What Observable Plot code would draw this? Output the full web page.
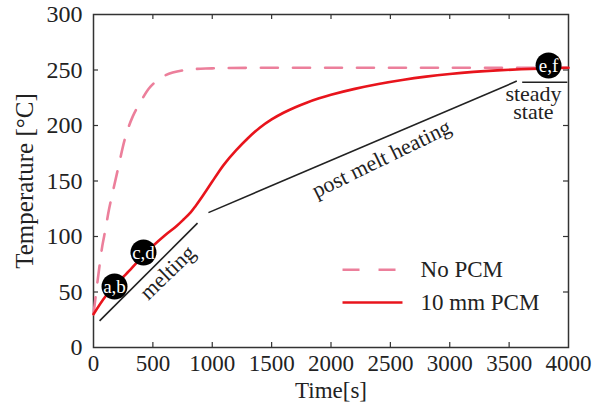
<!DOCTYPE html>
<html>
<head>
<meta charset="utf-8">
<script src="https://cdn.jsdelivr.net/npm/d3@7"></script>
<script src="https://cdn.jsdelivr.net/npm/@observablehq/plot@0.6"></script>
<style>
  html, body { margin: 0; padding: 0; background: #fff; }
  #chart svg, #chart svg * { font-family: "Liberation Serif", "Times New Roman", serif !important; }
</style>
</head>
<body>
<div id="chart"></div>
<script>
// ---- data ----
const noPcmTime = [0, 25, 50, 75, 100, 130, 160, 200, 270, 330, 400, 480, 600, 775, 1000, 2000, 3000, 4000];
const noPcmTemp = [30, 52, 73, 92, 106, 124, 139, 158, 190, 208, 222, 235, 245, 250, 251.5, 252, 252, 252];

const pcmTime = [0, 100, 177, 250, 300, 421, 500, 600, 700, 760, 820, 860, 900, 950, 1000, 1050, 1100, 1200, 1300, 1400, 1500, 1600, 1700, 1800, 1900, 2000, 2200, 2400, 2600, 2800, 3000, 3200, 3400, 3600, 3800, 4000];
const pcmTemp = [30, 46, 55.5, 63.5, 69, 83, 91.5, 101, 109.5, 115.5, 122, 127.5, 133.5, 141.5, 149.5, 157.5, 165, 177.5, 188.5, 198, 205.5, 211.5, 216.5, 220.8, 224.5, 227.7, 233, 237.4, 241, 244, 246.4, 248.3, 249.7, 250.7, 251.4, 252];

const seriesNames = ["No PCM", "10 mm PCM"];

const xTicks = [0, 500, 1000, 1500, 2000, 2500, 3000, 3500, 4000];
const yTicks = [0, 50, 100, 150, 200, 250, 300];

// annotation segments (data units)
const segT1 = [51, 968, 3610];
const segY1 = [24, 121.5, 239];
const segT2 = [876, 3565, 3990];
const segY2 = [112, 240, 239];

// annotation labels
const annotText = ["melting", "post melt heating", "steady", "state"];
const annotT = [623, 2425, 3705, 3705];
const annotY = [67.5, 170, 228, 212];
const annotAngle = [-44, -26, 0, 0];

// state markers
const markerText = ["a,b", "c,d", "e,f"];
const markerT = [177, 421, 3832];
const markerY = [55, 85.6, 254];

// legend entries (data units inside plot)
const legendT1 = [2097, 2097];
const legendT2 = [2565, 2602];
const legendY = [70, 40.5];
const legendTextT = 2754;

// ---- build ----
const RED = "#e8141c";
const PINK = "#ec7f9b";

const W = 597, H = 402, mL = 93, mR = 29, mT = 14, mB = 55;
const plotW = W - mL - mR, plotH = H - mT - mB;
const tickLen = 5;

const noPcm = noPcmTime.map((t, i) => ({t, v: noPcmTemp[i]}));
const pcm = pcmTime.map((t, i) => ({t, v: pcmTemp[i]}));
const idx3 = [0, 1, 2];

const chart = Plot.plot({
  width: W, height: H,
  marginLeft: mL, marginRight: mR, marginTop: mT, marginBottom: mB,
  style: {fontSize: "22px", color: "#222", background: "#fff"},
  x: {domain: [0, 4000], ticks: xTicks},
  y: {domain: [0, 300], ticks: yTicks},
  marks: [
    Plot.axisX({ticks: xTicks, tickSize: 0, tickPadding: 7, label: null, fontSize: 23, tickFormat: d => String(d)}),
    Plot.axisY({ticks: yTicks, tickSize: 0, tickPadding: 11, label: null, fontSize: 24, tickFormat: d => String(d)}),
    // inward ticks on all sides
    Plot.tickX(xTicks.slice(1, -1), {x: d => d, stroke: "#333", strokeWidth: 1.2, insetTop: plotH - tickLen}),
    Plot.tickX(xTicks.slice(1, -1), {x: d => d, stroke: "#333", strokeWidth: 1.2, insetBottom: plotH - tickLen}),
    Plot.tickY(yTicks.slice(1, -1), {y: d => d, stroke: "#333", strokeWidth: 1.2, insetRight: plotW - tickLen}),
    Plot.tickY(yTicks.slice(1, -1), {y: d => d, stroke: "#333", strokeWidth: 1.2, insetLeft: plotW - tickLen}),
    Plot.frame({stroke: "#333", strokeWidth: 1.5}),
    // series
    Plot.line(noPcm, {x: "t", y: "v", stroke: PINK, strokeWidth: 2.6, strokeDasharray: "17,15", curve: "catmull-rom"}),
    Plot.line(pcm, {x: "t", y: "v", stroke: RED, strokeWidth: 2.6, curve: "catmull-rom"}),
    // annotation segments
    Plot.link(idx3, {x1: i => segT1[i], y1: i => segY1[i], x2: i => segT2[i], y2: i => segY2[i], stroke: "#222", strokeWidth: 1.6}),
    Plot.text(annotText, {x: (d, i) => annotT[i], y: (d, i) => annotY[i], rotate: (d, i) => annotAngle[i], text: d => d, fontSize: 22, fill: "#222"}),
    // markers
    Plot.dot(idx3, {x: i => markerT[i], y: i => markerY[i], r: 13, fill: "#000"}),
    Plot.text(markerText, {x: (d, i) => markerT[i], y: (d, i) => markerY[i], text: d => d, fill: "#fff", fontSize: 19}),
    // legend
    Plot.link([0], {x1: i => legendT1[i], x2: i => legendT2[i], y1: i => legendY[i], y2: i => legendY[i], stroke: PINK, strokeWidth: 2.6, strokeDasharray: "17,19"}),
    Plot.link([1], {x1: i => legendT1[i], x2: i => legendT2[i], y1: i => legendY[i], y2: i => legendY[i], stroke: RED, strokeWidth: 2.6}),
    Plot.text(seriesNames, {x: legendTextT, y: (d, i) => legendY[i], text: d => d, textAnchor: "start", fontSize: 23, fill: "#222"}),
    // axis titles
    Plot.text(["Temperature [°C]"], {frameAnchor: "left", textAnchor: "middle", lineAnchor: "middle", rotate: -90, dx: -69, text: d => d, fontSize: 25, fill: "#222"}),
    Plot.text(["Time[s]"], {frameAnchor: "bottom", textAnchor: "middle", lineAnchor: "bottom", dy: 50, text: d => d, fontSize: 23, fill: "#222"})
  ]
});
document.getElementById("chart").appendChild(chart);
</script>
</body>
</html>
